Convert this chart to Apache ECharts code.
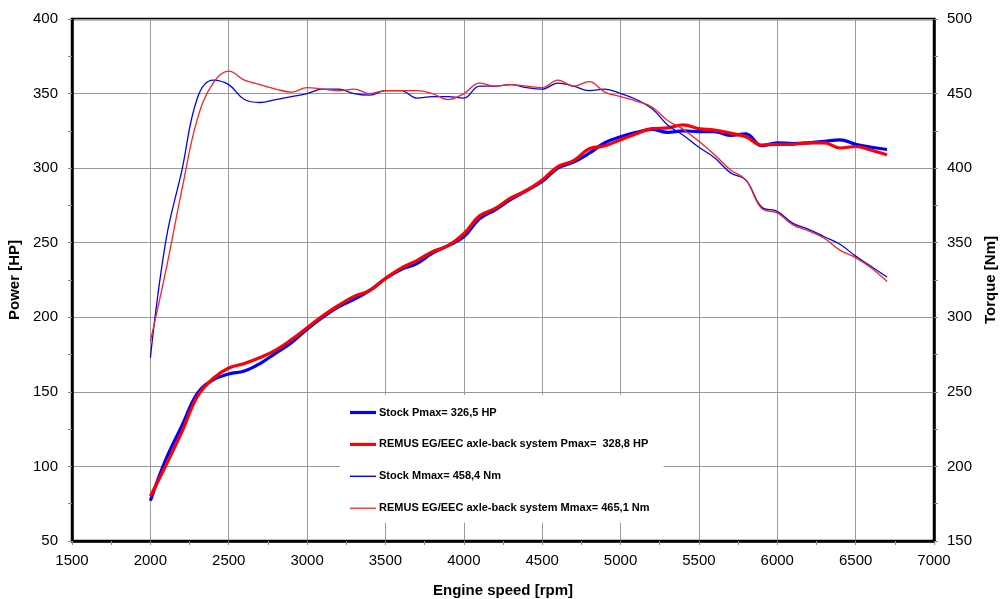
<!DOCTYPE html>
<html>
<head>
<meta charset="utf-8">
<script src="https://cdn.jsdelivr.net/npm/echarts@6/dist/echarts.min.js"></script>
<style>
html,body{margin:0;padding:0;background:#fff;}
#chart{width:1001px;height:599px;}
</style>
</head>
<body>
<div id="chart"></div>
<script>
const rpm = [2000,2100,2200,2300,2400,2500,2600,2700,2800,2900,3000,3100,3200,3300,3400,3500,3600,3700,3800,3900,4000,4100,4200,4300,4400,4500,4600,4700,4800,4900,5000,5100,5200,5300,5400,5500,5600,5700,5800,5900,6000,6100,6200,6300,6400,6500,6600,6700];

const stockPower = [77,105,127,149,158,162,164,169,176,183,192,200,207,212,218,226,232,236,243,248,254,266,272,279,285,291,300,304,310,317,321,324,326,324,325,324.5,324.5,322,323,315,317,316.5,317,318,319,316,314,312.5];
const remusPower = [80,101,123,147,159,166,169,173,178,185,193,201,208,214,218,226,233,238,244,248,256,268,273,280,285,292,301,305,313,315,319,323,326.5,327,329,326.5,325.5,323.5,321,315.5,316,316,317,317,313.5,314.5,312,309];
const stockTorque = [273,352,398,447,459,456,446,444,446,448,450,453,453,450,449,452,452,447,448,448,447,455,455,456,454,453,457,455,452,453,450,446,440,429,422,414,407,397,392,374,371,363,359,354,349,341,334,327];
const remusTorque = [284,332,385,433,457,465,459,456,453,451,454,453,452,453,450,452,452,452,450,446,450,457,455,456,455,454,459,455,458,451,448,445,441,432,426,418,409,399,392,373,370,362,358,353,345,340,333,324];

const names = [
  'Stock Pmax= 326,5 HP',
  'REMUS EG/EEC axle-back system Pmax=  328,8 HP',
  'Stock Mmax= 458,4 Nm',
  'REMUS EG/EEC axle-back system Mmax= 465,1 Nm'
];

function pairs(xs, ys){ return xs.map((x,i)=>[x, ys[i]]); }

const font = 'Liberation Sans, Arial, sans-serif';
const chart = echarts.init(document.getElementById('chart'), null, {renderer:'canvas'});

const gridLine = {show:true, lineStyle:{color:'#9a9a9a', width:1}};
const thickIcon = 'path://M0,0h26v3.2h-26z';
const thinIcon = 'path://M0,0h26v1.4h-26z';

chart.setOption({
  backgroundColor:'#fff',
  animation:false,
  grid:{left:72, right:67, top:19, bottom:58, outerBoundsMode:'none', containLabel:false, show:true, borderColor:'#000', borderWidth:2.5, backgroundColor:'transparent'},
  legend:{
    data:[
      {name:names[0], icon:thickIcon, itemStyle:{color:'#0000ff'}},
      {name:names[1], icon:thickIcon, itemStyle:{color:'#ff0000'}},
      {name:names[2], icon:thinIcon, itemStyle:{color:'#0000ff'}},
      {name:names[3], icon:thinIcon, itemStyle:{color:'#ff3030'}}
    ],
    orient:'vertical',
    left:340, top:395,
    padding:[12,14,9,10],
    backgroundColor:'#fff',
    symbolKeepAspect:true,
    itemWidth:26, itemHeight:14, itemGap:20.9,
    textStyle:{fontFamily:font, fontWeight:'bold', fontSize:11, color:'#000', padding:[0,0,0,-2]},
    z:5
  },
  xAxis:{
    type:'value', min:1500, max:7000, interval:500,
    name:'Engine speed [rpm]', nameLocation:'middle', nameGap:42,
    nameTextStyle:{fontFamily:font, fontWeight:'bold', fontSize:15, color:'#000'},
    axisLine:{show:true, lineStyle:{color:'#000', width:2.5}},
    axisTick:{show:true, inside:false, length:4, lineStyle:{color:'#888'}},
    minorTick:{show:true, splitNumber:2, length:4, lineStyle:{color:'#888'}},
    axisLabel:{fontFamily:font, fontSize:15, color:'#000', margin:12, formatter:(v)=>String(v)},
    splitLine:gridLine
  },
  yAxis:[{
    type:'value', min:50, max:400, interval:50,
    name:'Power [HP]', nameLocation:'middle', nameGap:46, nameRotate:90,
    nameTextStyle:{fontFamily:font, fontWeight:'bold', fontSize:15, color:'#000'},
    axisLine:{show:true, lineStyle:{color:'#000', width:2.5}},
    axisTick:{show:true, length:4, lineStyle:{color:'#888'}},
    minorTick:{show:true, splitNumber:2, length:4, lineStyle:{color:'#888'}},
    axisLabel:{fontFamily:font, fontSize:15, color:'#000', margin:14, formatter:(v)=>String(v)},
    splitLine:gridLine
  },{
    type:'value', min:150, max:500, interval:50, position:'right',
    name:'Torque [Nm]', nameLocation:'middle', nameGap:46, nameRotate:90,
    nameTextStyle:{fontFamily:font, fontWeight:'bold', fontSize:15, color:'#000'},
    axisLine:{show:true, lineStyle:{color:'#000', width:2.5}},
    axisTick:{show:true, length:4, lineStyle:{color:'#888'}},
    minorTick:{show:true, splitNumber:2, length:4, lineStyle:{color:'#888'}},
    axisLabel:{fontFamily:font, fontSize:15, color:'#000', margin:13, formatter:(v)=>String(v)},
    splitLine:{show:false}
  }],
  series:[
    {name:names[0], type:'line', yAxisIndex:0, data:pairs(rpm, stockPower), smooth:0.4, symbol:'none', lineStyle:{color:'#0000ff', width:3.2}, itemStyle:{color:'#0000ff'}},
    {name:names[1], type:'line', yAxisIndex:0, data:pairs(rpm, remusPower), smooth:0.4, symbol:'none', lineStyle:{color:'#ff0000', width:3.2}, itemStyle:{color:'#ff0000'}},
    {name:names[2], type:'line', yAxisIndex:1, data:pairs(rpm, stockTorque), smooth:0.4, symbol:'none', lineStyle:{color:'#0000ff', width:1.3}, itemStyle:{color:'#0000ff'}},
    {name:names[3], type:'line', yAxisIndex:1, data:pairs(rpm, remusTorque), smooth:0.4, symbol:'none', lineStyle:{color:'#ff2020', width:1.3}, itemStyle:{color:'#ff2020'}}
  ]
});
</script>
</body>
</html>
